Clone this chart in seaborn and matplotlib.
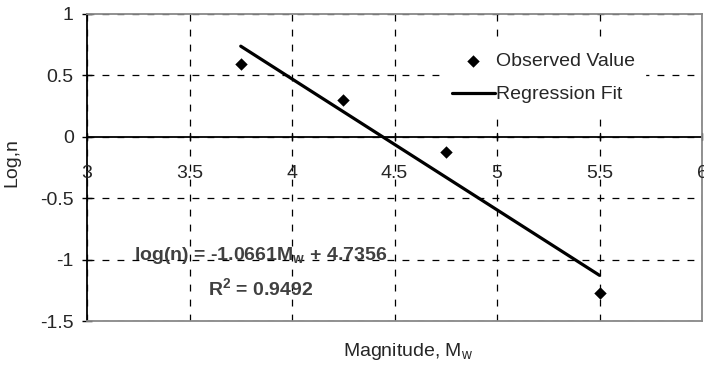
import matplotlib
matplotlib.use("Agg")
import matplotlib.pyplot as plt
import seaborn as sns
import pandas as pd

# data
magnitude = [3.75, 4.25, 4.75, 5.5]
log_n = [0.59, 0.30, -0.12, -1.27]
fit_x = [3.75, 5.5]
fit_y = [0.738, -1.128]
x_ticks = [3, 3.5, 4, 4.5, 5, 5.5, 6]
x_tick_labels = ["3", "3.5", "4", "4.5", "5", "5.5", "6"]
y_ticks = [-1.5, -1, -0.5, 0, 0.5, 1]
y_tick_labels = ["-1.5", "-1", "-0.5", "0", "0.5", "1"]
equation_text = "log(n) = -1.0661M$_{\\mathbf{w}}$ + 4.7356"
r2_text = "R$^{\\mathbf{2}}$ = 0.9492"

sns.set_style("white")
plt.rcParams["font.family"] = ["Liberation Sans", "DejaVu Sans"]
plt.rcParams["mathtext.fontset"] = "custom"
plt.rcParams["mathtext.rm"] = "Liberation Sans"
plt.rcParams["mathtext.bf"] = "Liberation Sans:bold"
plt.rcParams["mathtext.default"] = "regular"

fs = 14
fig = plt.figure(figsize=(7.04, 3.67), dpi=100)
ax = fig.add_axes([87 / 704, 1 - 321 / 367, 615 / 704, 307 / 367])

obs = pd.DataFrame({"Magnitude": magnitude, "LogN": log_n})
fit = pd.DataFrame({"Magnitude": fit_x, "LogN": fit_y})

sns.scatterplot(data=obs, x="Magnitude", y="LogN", marker="D", color="black",
                s=40, linewidth=0, ax=ax, label="Observed Value", zorder=4)
sns.lineplot(data=fit, x="Magnitude", y="LogN", color="black", linewidth=2.3,
             ax=ax, label="Regression Fit", zorder=3)

ax.set_xlim(3, 6)
ax.set_ylim(-1.5, 1)
ax.set_xticks(x_ticks)
ax.set_xticklabels(x_tick_labels, fontsize=fs)
ax.set_yticks(y_ticks)
ax.set_yticklabels(y_tick_labels, fontsize=fs)

ax.grid(True, color="black", linewidth=0.9, linestyle=(0, (5.5, 6.5)), zorder=1)
ax.set_axisbelow(True)

for s in ["top", "right", "bottom"]:
    ax.spines[s].set_color("#888888")
    ax.spines[s].set_linewidth(1.3)
ax.spines["left"].set_color("black")
ax.spines["left"].set_linewidth(1.3)
ax.axhline(0, color="black", linewidth=1.3, zorder=2)

ax.tick_params(axis="y", direction="inout", length=7, width=1, color="black", pad=6, left=True)
ax.tick_params(axis="x", bottom=False, pad=0)
# move x tick labels to sit under y=0
for lab in ax.get_xticklabels():
    lab.set_transform(lab.get_transform() + matplotlib.transforms.ScaledTranslation(0, 0, fig.dpi_scale_trans))
ax.xaxis.set_ticks_position("none")
ax.tick_params(axis="x", labelbottom=False)
for xv, lab in zip(x_ticks, x_tick_labels):
    ax.text(xv, -0.3, lab, ha="center", va="center", fontsize=fs, clip_on=False)
    ax.plot([xv, xv], [-0.03, 0.03], color="black", lw=1, zorder=2, clip_on=False)

ax.set_xlabel("")
ax.set_ylabel("")
fig.text(408 / 704, 1 - 352 / 367, "Magnitude, M$_\\mathrm{w}$", ha="center", va="center", fontsize=fs)
fig.text(12 / 704, 1 - 163 / 367, "Log,n", ha="center", va="center", rotation=90, fontsize=fs)

ax.text(3.845, -0.965, equation_text, ha="center", va="center", fontsize=fs,
        fontweight="bold", color="#404040", zorder=5)
ax.text(3.845, -1.23, r2_text, ha="center", va="center", fontsize=fs,
        fontweight="bold", color="#404040", zorder=5)

leg = ax.legend(loc="center left", bbox_to_anchor=(442 / 704, 1 - 78 / 367),
                bbox_transform=fig.transFigure, frameon=True, fontsize=fs,
                handlelength=2.2, handletextpad=0.1, labelspacing=0.8,
                borderpad=0.5, borderaxespad=0, fancybox=False)
leg.get_frame().set_facecolor("white")
leg.get_frame().set_edgecolor("white")
leg.get_frame().set_alpha(1)

fig.savefig("out.png", dpi=100)
